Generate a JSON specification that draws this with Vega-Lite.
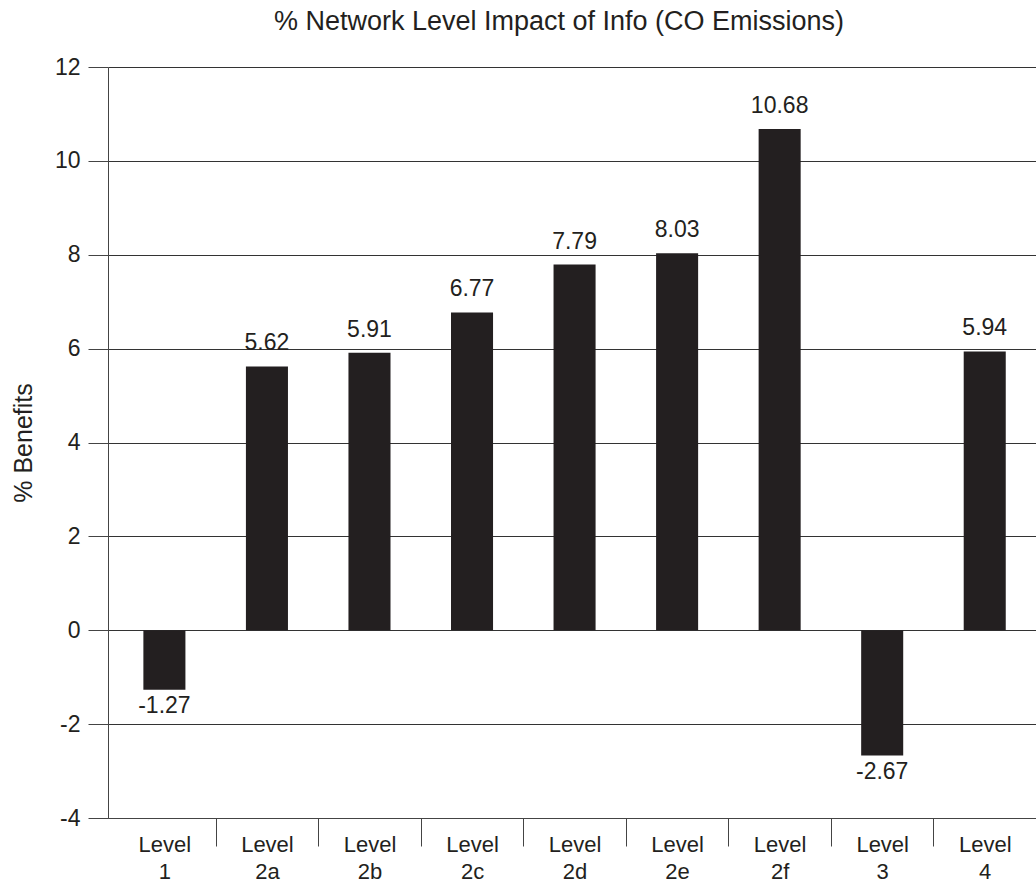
{
  "$schema": "https://vega.github.io/schema/vega-lite/v6.json",
  "autosize": {"type": "none"},
  "width": 928,
  "height": 751,
  "padding": {"left": 108, "top": 67, "right": 0, "bottom": 66},
  "background": "white",
  "title": {
    "text": "% Network Level Impact of Info (CO Emissions)",
    "frame": "group",
    "anchor": "middle",
    "baseline": "alphabetic",
    "offset": -1,
    "dx": -13,
    "font": "Liberation Sans",
    "fontSize": 27,
    "fontWeight": "normal",
    "color": "#231f20"
  },
  "config": {
    "view": {"stroke": null},
    "font": "Liberation Sans",
    "locale": {
      "number": {"decimal": ".", "thousands": ",", "grouping": [3], "currency": ["$", ""], "minus": "-"}
    }
  },
  "data": {
    "values": [
      {"level": "Level 1", "value": -1.27},
      {"level": "Level 2a", "value": 5.62},
      {"level": "Level 2b", "value": 5.91},
      {"level": "Level 2c", "value": 6.77},
      {"level": "Level 2d", "value": 7.79},
      {"level": "Level 2e", "value": 8.03},
      {"level": "Level 2f", "value": 10.68},
      {"level": "Level 3", "value": -2.67},
      {"level": "Level 4", "value": 5.94}
    ]
  },
  "encoding": {
    "x": {
      "field": "level",
      "type": "nominal",
      "sort": null,
      "scale": {"paddingInner": 0, "paddingOuter": 0.025, "align": 1},
      "axis": {
        "title": null,
        "labelAngle": 0,
        "labelExpr": "datum.value ? split(datum.value, ' ') : ''",
        "labelFont": "Liberation Sans",
        "labelFontSize": 22,
        "labelColor": "#231f20",
        "labelLineHeight": 27,
        "labelBaseline": "top",
        "labelPadding": -12,
        "tickBand": "extent",
        "tickSize": 28,
        "tickColor": "#444444",
        "tickOpacity": {"condition": {"test": "!datum.value", "value": 0}, "value": 1},
        "tickWidth": 1,
        "domainColor": "#444444",
        "domainWidth": 1,
        "grid": false
      }
    },
    "y": {
      "field": "value",
      "type": "quantitative",
      "scale": {"domain": [-4, 12], "nice": false, "zero": false},
      "axis": {
        "title": "% Benefits",
        "titleFont": "Liberation Sans",
        "titleFontSize": 25,
        "titleFontWeight": "normal",
        "titleColor": "#231f20",
        "titlePadding": 18,
        "values": [-4, -2, 0, 2, 4, 6, 8, 10, 12],
        "format": "d",
        "labelFont": "Liberation Sans",
        "labelFontSize": 23,
        "labelColor": "#231f20",
        "labelPadding": 8,
        "tickSize": 20,
        "tickColor": "#444444",
        "domainColor": "#444444",
        "grid": true,
        "gridColor": "#333333",
        "gridWidth": 1,
        "gridOpacity": 1
      }
    }
  },
  "layer": [
    {
      "mark": {"type": "bar", "color": "#231f20", "width": {"band": 0.41}},
      "encoding": {
        "y2": {"datum": 0}
      }
    },
    {
      "transform": [{"filter": "datum.value >= 0"}],
      "mark": {"type": "text", "baseline": "alphabetic", "dy": -16, "font": "Liberation Sans", "fontSize": 23, "color": "#231f20"},
      "encoding": {
        "text": {"field": "value", "type": "quantitative", "format": ".2f"}
      }
    },
    {
      "transform": [{"filter": "datum.value < 0"}],
      "mark": {"type": "text", "baseline": "top", "dy": 5, "font": "Liberation Sans", "fontSize": 23, "color": "#231f20"},
      "encoding": {
        "text": {"field": "value", "type": "quantitative", "format": ".2f"}
      }
    }
  ]
}
